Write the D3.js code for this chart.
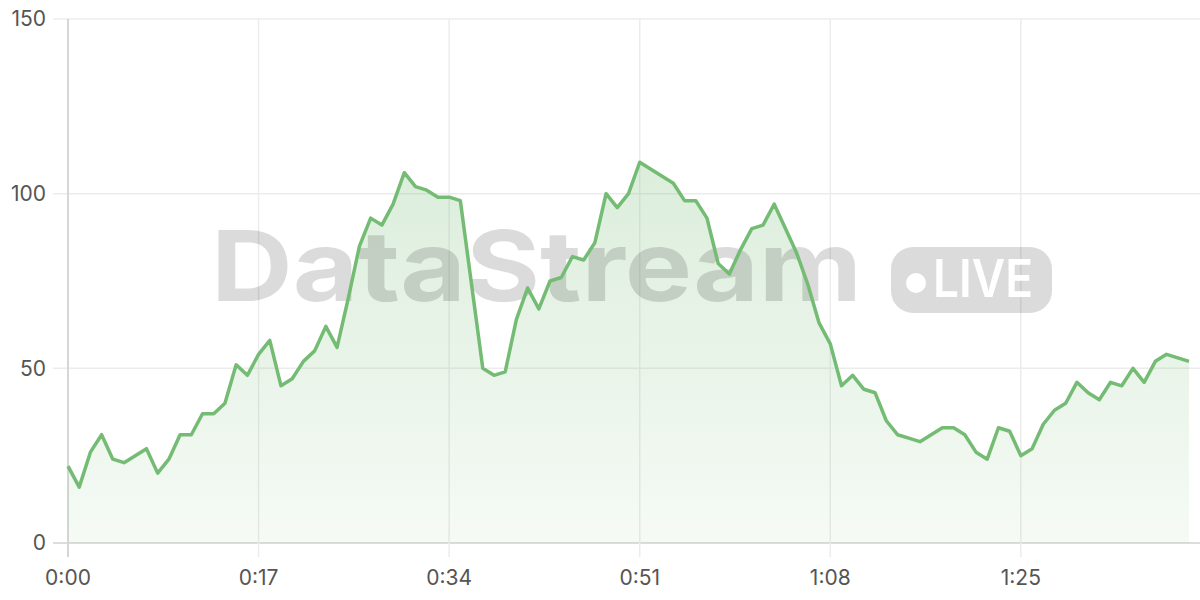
<!DOCTYPE html>
<html><head><meta charset="utf-8">
<script src="https://cdn.jsdelivr.net/npm/d3@7"></script>
<style>html,body{margin:0;padding:0;background:#fff;}svg{display:block;}</style>
</head><body>
<svg id="chart" width="1200" height="600"></svg>
<script>
const seconds = d3.range(0, 101);
const values = [22,16,26,31,24,23,25,27,20,24,31,31,37,37,40,51,48,54,58,45,47,52,55,62,56,70,85,93,91,97,106,102,101,99,99,98,74,50,48,49,64,73,67,75,76,82,81,86,100,96,100,109,107,105,103,98,98,93,80,77,84,90,91,97,90,83,74,63,57,45,48,44,43,35,31,30,29,31,33,33,31,26,24,33,32,25,27,34,38,40,46,43,41,46,45,50,46,52,54,53,52];
const xTicks = [0,17,34,51,68,85];
const yTicks = [0,50,100,150];

const svg = d3.select('#chart');
const m = {l:68, r:1189, t:19, b:543};
const x = d3.scaleLinear().domain([0,100]).range([m.l, m.r]);
const y = d3.scaleLinear().domain([0,150]).range([m.b, m.t]);
const fmt = s => Math.floor(s/60) + ':' + String(s%60).padStart(2,'0');
const font = 'Inter, "Noto Sans", sans-serif';

const defs = svg.append('defs');
const g = defs.append('linearGradient').attr('id','ag')
  .attr('gradientUnits','userSpaceOnUse').attr('x1',0).attr('x2',0).attr('y1', y(110)).attr('y2', y(0));
g.append('stop').attr('offset','0%').attr('stop-color','#76bb76').attr('stop-opacity',0.26);
g.append('stop').attr('offset','100%').attr('stop-color','#76bb76').attr('stop-opacity',0.07);

// horizontal grid
svg.append('g').selectAll('line').data(yTicks).join('line')
  .attr('x1', 53).attr('x2', 1200).attr('y1', d=>y(d)).attr('y2', d=>y(d))
  .attr('stroke', d=> d===0 ? '#dcdcdc' : '#ececec').attr('stroke-width', d=> d===0?2:1.5);
// vertical grid
svg.append('g').selectAll('line').data(xTicks).join('line')
  .attr('x1', d=>x(d)).attr('x2', d=>x(d)).attr('y1', m.t).attr('y2', 557)
  .attr('stroke', d=> d===0 ? '#d6d6d6' : '#ececec').attr('stroke-width', d=> d===0?2:1.5);

// area
const area = d3.area().x((d,i)=>x(seconds[i])).y0(y(0)).y1(d=>y(d));
svg.append('path').datum(values).attr('d', area).attr('fill','url(#ag)');

// watermark
const wm = svg.append('g').attr('fill','rgba(0,0,0,0.14)');
wm.append('text').attr('x', 211).attr('y', 301).attr('font-family', font).attr('font-weight', 700)
  .attr('font-size', 98).attr('textLength', 651).attr('lengthAdjust','spacingAndGlyphs').text('DataStream');
wm.append('rect').attr('x', 891).attr('y', 247).attr('width', 161).attr('height', 66).attr('rx', 22);
svg.append('circle').attr('cx', 916).attr('cy', 283).attr('r', 10).attr('fill','#fff');
svg.append('text').attr('x', 933).attr('y', 297).attr('font-family', font).attr('font-weight', 600)
  .attr('font-size', 52).attr('textLength', 100).attr('lengthAdjust','spacingAndGlyphs').attr('fill','#fff').text('LIVE');

// line
const line = d3.line().x((d,i)=>x(seconds[i])).y(d=>y(d));
svg.append('path').datum(values).attr('d', line).attr('fill','none')
  .attr('stroke','#74bb74').attr('stroke-width',3.5).attr('stroke-linejoin','round');

// y labels
svg.append('g').selectAll('text').data(yTicks).join('text')
  .attr('x', 46).attr('y', d=>y(d)).attr('dy','0.35em').attr('text-anchor','end')
  .attr('font-family', font).attr('font-size', 21).attr('fill','#555').text(d=>d);
// x labels
svg.append('g').selectAll('text').data(xTicks).join('text')
  .attr('x', d=>x(d)).attr('y', 578).attr('dy','0.35em').attr('text-anchor','middle')
  .attr('font-family', font).attr('font-size', 21).attr('fill','#555').text(d=>fmt(d));
</script>
</body></html>
